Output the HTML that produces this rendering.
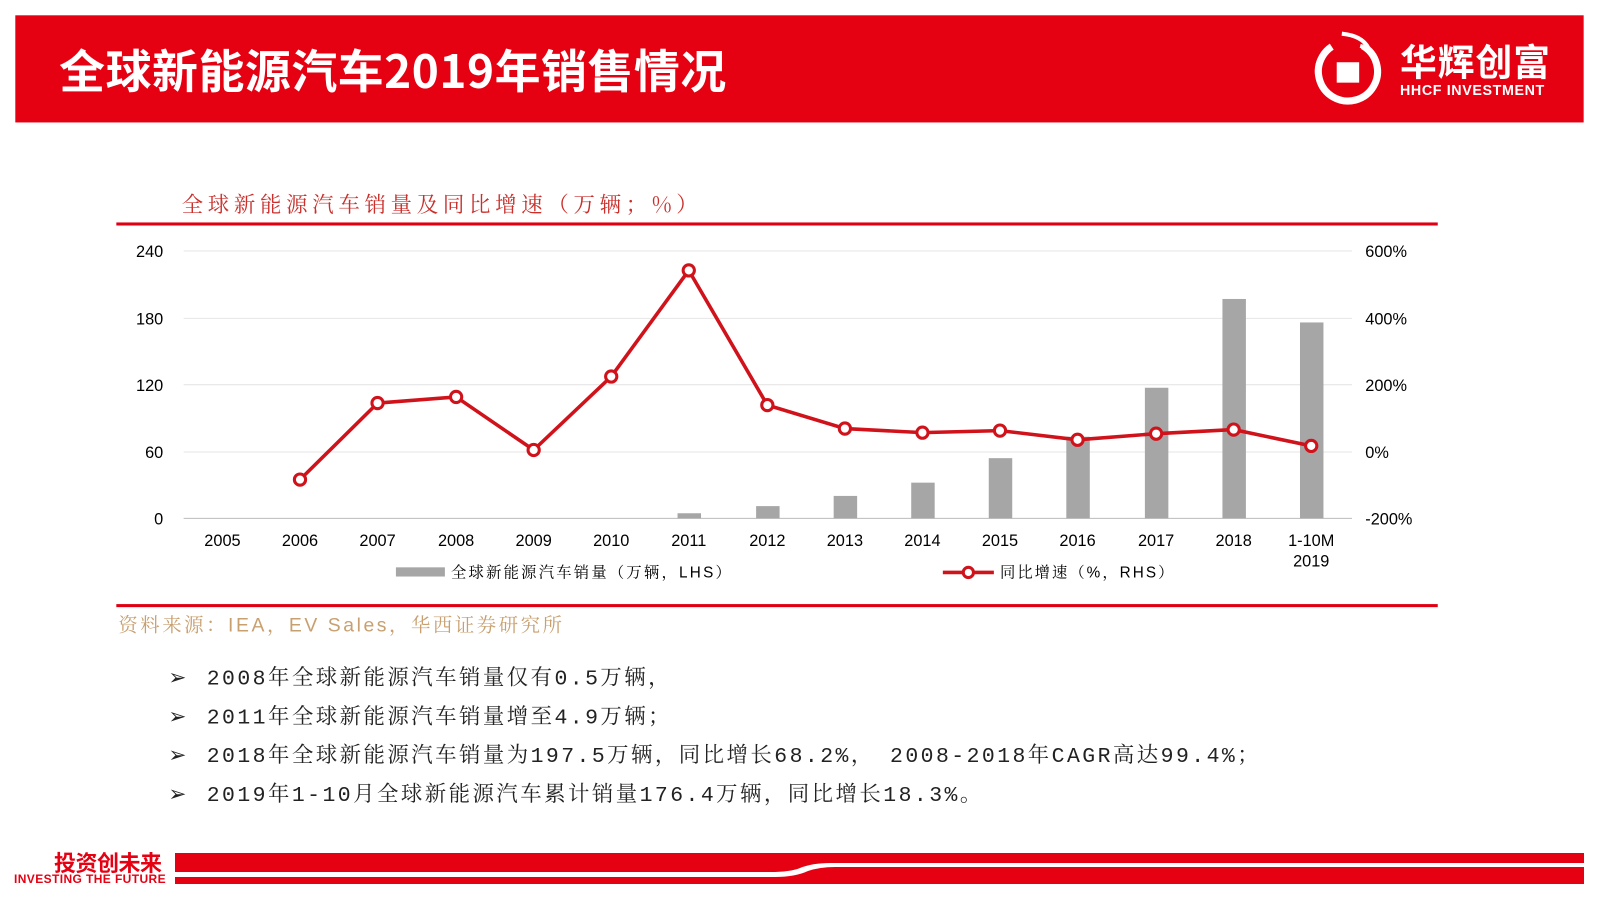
<!DOCTYPE html>
<html><head><meta charset="utf-8"><style>
body{margin:0;width:1600px;height:900px;background:#fff;position:relative;overflow:hidden;font-family:"Liberation Sans","Noto Sans CJK SC",sans-serif}
#w{position:absolute;left:0;top:0;width:1568px;height:882px;transform:scale(1.0204);transform-origin:0 0}
.abs{position:absolute}
</style></head><body>
<div id="w">
<div class="abs" style="left:15px;top:15px;width:1537px;height:105px;background:#e50012"></div>
<div class="abs" style="left:58px;top:34px;color:#fff;font-size:45px;font-weight:bold;letter-spacing:0.5px;font-family:'Noto Sans CJK SC',sans-serif">全球新能源汽车2019年销售情况</div>
<svg class="abs" style="left:1285px;top:30px" width="80" height="80"><circle cx="36" cy="40" r="29" fill="none" stroke="#fff" stroke-width="7" stroke-dasharray="150 40" transform="rotate(-60 36 40)"/><rect x="25" y="31" width="22" height="20" fill="#fff"/><path d="M30 3 Q50 5 56 17 L48 15" fill="none" stroke="#fff" stroke-width="4"/></svg>
<div class="abs" style="left:1372px;top:38px;color:#fff;font-size:36px;font-weight:bold;font-family:'Noto Sans CJK SC',sans-serif;line-height:42px;letter-spacing:1px">华辉创富</div>
<div class="abs" style="left:1372px;top:80px;color:#fff;font-size:14px;font-weight:bold;letter-spacing:0.6px">HHCF INVESTMENT</div>

<div class="abs" style="left:178px;top:185px;font-size:21px;letter-spacing:4.6px;font-family:'Noto Serif CJK SC',serif;color:#c9302c">全球新能源汽车销量及同比增速（万辆；%）</div>
<div class="abs" style="left:114px;top:218px;width:1295px;height:3px;background:#e00012"></div>
<div class="abs" style="left:114px;top:592px;width:1295px;height:3px;background:#e00012"></div>
<div class="abs" style="left:116px;top:598px;color:#c8a070;font-size:19px;letter-spacing:2.5px;font-family:'Liberation Sans','Noto Serif CJK SC',serif">资料来源：IEA，EV Sales，华西证券研究所</div>

<svg class="abs" style="left:0;top:0" width="1568" height="600" font-family="Liberation Sans" font-size="16" fill="#000">
<g stroke="#e6e6e6" stroke-width="1">
<line x1="180" y1="246" x2="1325" y2="246"/><line x1="180" y1="312" x2="1325" y2="312"/><line x1="180" y1="377" x2="1325" y2="377"/><line x1="180" y1="443" x2="1325" y2="443"/></g>
<line x1="180" y1="508" x2="1325" y2="508" stroke="#bbb"/>
<g text-anchor="end"><text x="160" y="252">240</text><text x="160" y="318">180</text><text x="160" y="383">120</text><text x="160" y="449">60</text><text x="160" y="514">0</text></g>
<g><text x="1338" y="252">600%</text><text x="1338" y="318">400%</text><text x="1338" y="383">200%</text><text x="1338" y="449">0%</text><text x="1338" y="514">-200%</text></g>
<g text-anchor="middle"><text x="218" y="535">2005</text><text x="294" y="535">2006</text><text x="370" y="535">2007</text><text x="447" y="535">2008</text><text x="523" y="535">2009</text><text x="599" y="535">2010</text><text x="675" y="535">2011</text><text x="752" y="535">2012</text><text x="828" y="535">2013</text><text x="904" y="535">2014</text><text x="980" y="535">2015</text><text x="1056" y="535">2016</text><text x="1133" y="535">2017</text><text x="1209" y="535">2018</text><text x="1285" y="535">1-10M</text><text x="1285" y="555">2019</text></g>
<g fill="#a6a6a6">
<rect x="664" y="503" width="23" height="5"/><rect x="741" y="496" width="23" height="12"/><rect x="817" y="486" width="23" height="22"/><rect x="893" y="473" width="23" height="35"/><rect x="969" y="449" width="23" height="59"/><rect x="1045" y="428" width="23" height="80"/><rect x="1122" y="380" width="23" height="128"/><rect x="1198" y="293" width="23" height="215"/><rect x="1274" y="316" width="23" height="192"/></g>
<polyline fill="none" stroke="#d0121b" stroke-width="3.5" points="294,470 370,395 447,389 523,441 599,369 675,265 752,397 828,420 904,424 980,422 1056,431 1133,425 1209,421 1285,437"/>
<g fill="#fff" stroke="#d0121b" stroke-width="3">
<circle cx="294" cy="470" r="5.5"/><circle cx="370" cy="395" r="5.5"/><circle cx="447" cy="389" r="5.5"/><circle cx="523" cy="441" r="5.5"/><circle cx="599" cy="369" r="5.5"/><circle cx="675" cy="265" r="5.5"/><circle cx="752" cy="397" r="5.5"/><circle cx="828" cy="420" r="5.5"/><circle cx="904" cy="424" r="5.5"/><circle cx="980" cy="422" r="5.5"/><circle cx="1056" cy="431" r="5.5"/><circle cx="1133" cy="425" r="5.5"/><circle cx="1209" cy="421" r="5.5"/><circle cx="1285" cy="437" r="5.5"/></g>
<rect x="388" y="556" width="48" height="9" fill="#a6a6a6"/>
<text x="442" y="566" font-size="15" letter-spacing="2.2" font-family="Liberation Sans,Noto Serif CJK SC">全球新能源汽车销量（万辆，LHS）</text>
<line x1="924" y1="561" x2="974" y2="561" stroke="#d0121b" stroke-width="3.5"/><circle cx="949" cy="561" r="5" fill="#fff" stroke="#d0121b" stroke-width="3"/>
<text x="980" y="566" font-size="15" letter-spacing="2" font-family="Liberation Sans,Noto Serif CJK SC">同比增速（%，RHS）</text>
</svg>

<div class="abs" style="left:165px;top:648px;font-size:21px;line-height:38px;color:#222;font-family:'Liberation Mono','Noto Serif CJK SC',serif;letter-spacing:2.4px;white-space:nowrap">
<div><span style="letter-spacing:0">➢</span><span style="display:inline-block;width:20px"></span>2008年全球新能源汽车销量仅有0.5万辆，</div>
<div><span style="letter-spacing:0">➢</span><span style="display:inline-block;width:20px"></span>2011年全球新能源汽车销量增至4.9万辆；</div>
<div><span style="letter-spacing:0">➢</span><span style="display:inline-block;width:20px"></span>2018年全球新能源汽车销量为197.5万辆，同比增长68.2%，&nbsp;2008-2018年CAGR高达99.4%；</div>
<div><span style="letter-spacing:0">➢</span><span style="display:inline-block;width:20px"></span>2019年1-10月全球新能源汽车累计销量176.4万辆，同比增长18.3%。</div>
</div>
</div>

<div class="abs" style="left:54px;top:850px;color:#e50012;font-size:22px;font-weight:bold;font-family:'Noto Sans CJK SC',sans-serif;line-height:24px;letter-spacing:-0.5px">投资创未来</div>
<div class="abs" style="left:14px;top:873px;color:#e50012;font-size:12px;font-weight:bold;letter-spacing:0.4px;line-height:12px">INVESTING THE FUTURE</div>
<svg class="abs" style="left:0;top:0" width="1600" height="900">
<path d="M175 853 H1584 V863 H830 Q812 863 800 868 Q790 872 770 872 H175 Z" fill="#e50012"/>
<path d="M175 877 H775 Q795 877 808 871 Q820 867 835 867 H1584 V884 H175 Z" fill="#e50012"/>
</svg>
</body></html>
